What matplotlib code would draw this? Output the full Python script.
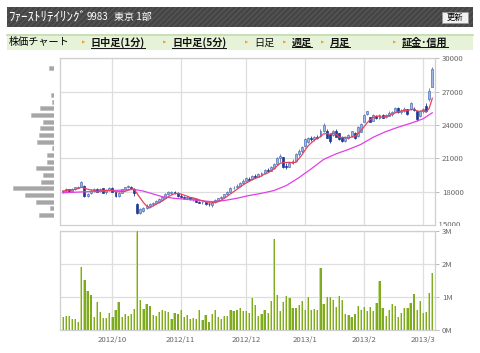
import numpy as np
import matplotlib
matplotlib.use('Agg')
import matplotlib.pyplot as plt
from matplotlib.patches import Rectangle
from matplotlib.lines import Line2D
from matplotlib.transforms import Bbox, blended_transform_factory

plt.rcParams['font.family'] = ['Noto Sans CJK JP', 'DejaVu Sans']

# daily candles, 2012/9/6 .. 2013/3/6
opens = [17950, 18050, 18200, 18100, 18200, 18350, 18450, 18500, 17650, 17850,
         18100, 18250, 18050, 18300, 17950, 18150, 18300, 17950, 17650, 17900,
         18200, 18400, 18450, 18200, 16900, 16050, 16300, 16500, 16700, 16850,
         16950, 17100, 17250, 17450, 17800, 17900, 17950, 17900, 17650, 17550,
         17450, 17500, 17350, 17350, 17100, 17050, 17050, 16900, 16800, 17050,
         17250, 17400, 17550, 17750, 18000, 18300, 18400, 18500, 18800, 18950,
         19150, 19100, 19400, 19350, 19600, 19700, 19950, 19900, 20150, 20500,
         21000, 21100, 20300, 20250, 20600, 20800, 21350, 21650, 22100, 22500,
         22800, 22700, 22900, 23000, 23500, 23500, 23200, 23100, 23500, 23250,
         22950, 22600, 22800, 23000, 23300, 23000, 23400, 24300, 24950, 24700,
         24400, 24800, 24600, 24900, 24700, 24850, 25000, 25200, 25500, 25150,
         25250, 25400, 25400, 25400, 25300, 24800, 25250, 25750, 26300, 27450]
highs = [18150, 18300, 18250, 18350, 18450, 18550, 18950, 18600, 17850, 18200,
         18300, 18300, 18350, 18350, 18200, 18400, 18400, 18000, 17950, 18250,
         18450, 18600, 18550, 18300, 17000, 16500, 16650, 16850, 17000, 17100,
         17250, 17400, 17600, 17900, 18050, 18050, 18050, 18000, 17750, 17650,
         17600, 17550, 17450, 17400, 17200, 17150, 17100, 17050, 17100, 17300,
         17450, 17600, 17800, 18100, 18400, 18500, 18650, 18900, 19100, 19300,
         19300, 19500, 19550, 19700, 19800, 20000, 20100, 20300, 20600, 21100,
         21400, 21150, 20600, 20700, 20900, 21500, 21800, 22100, 22850, 22950,
         23000, 23050, 23100, 23600, 24200, 23600, 23250, 23550, 23600, 23300,
         23000, 22850, 23150, 23500, 23350, 23900, 24200, 24950, 25300, 24750,
         24950, 24900, 25000, 24950, 24950, 25250, 25300, 25650, 25600, 25400,
         25600, 25450, 26100, 25600, 25350, 25350, 25500, 25950, 27300, 29250]
lows = [17850, 18000, 18000, 18050, 18150, 18300, 18400, 17500, 17550, 17800,
        18000, 17950, 18000, 17850, 17800, 18100, 17950, 17500, 17550, 17850,
        18150, 18300, 18200, 17650, 15950, 15950, 16200, 16400, 16600, 16750,
        16850, 17000, 17150, 17400, 17700, 17750, 17800, 17500, 17450, 17350,
        17300, 17250, 17200, 17050, 16950, 16900, 16800, 16750, 16650, 16950,
        17150, 17300, 17500, 17700, 17950, 18200, 18300, 18450, 18700, 18850,
        18950, 19050, 19200, 19300, 19450, 19600, 19750, 19850, 20050, 20400,
        20700, 20100, 20050, 20200, 20500, 20700, 21200, 21500, 22000, 22400,
        22550, 22600, 22700, 22900, 23400, 22800, 22400, 23000, 22900, 22650,
        22450, 22500, 22700, 22950, 22750, 22950, 23350, 24250, 24900, 24250,
        24350, 24500, 24550, 24600, 24650, 24800, 24850, 25150, 25050, 25000,
        25150, 24900, 25350, 25250, 24400, 24700, 25100, 25200, 26200, 27400]
closes = [18100, 18250, 18050, 18250, 18400, 18450, 18850, 17600, 17800, 18100,
          18250, 18000, 18250, 17900, 18150, 18300, 18000, 17600, 17900, 18200,
          18400, 18500, 18250, 17850, 16050, 16400, 16550, 16750, 16900, 16950,
          17150, 17300, 17500, 17800, 17950, 17950, 17900, 17600, 17550, 17450,
          17500, 17300, 17400, 17100, 17000, 17100, 16900, 16850, 17050, 17250,
          17400, 17550, 17750, 18000, 18300, 18350, 18550, 18800, 18950, 19200,
          19050, 19400, 19300, 19600, 19700, 19950, 19850, 20200, 20500, 21000,
          21200, 20200, 20200, 20600, 20800, 21400, 21700, 22000, 22700, 22800,
          22700, 22950, 22850, 23500, 24000, 22850, 22550, 23500, 22950, 22700,
          22550, 22800, 23100, 23450, 22850, 23850, 24100, 24900, 25250, 24300,
          24900, 24600, 24900, 24650, 24900, 25100, 25200, 25550, 25150, 25300,
          25450, 25000, 26000, 25350, 24500, 25250, 25400, 25250, 27100, 29000]

# red line (short average), read per day
ma_short = [18050, 18100, 18150, 18150, 18210, 18280, 18400, 18310, 18220, 18160,
            18120, 17950, 18080, 18100, 18110, 18120, 18120, 17990, 17990, 18000,
            18020, 18120, 18250, 18240, 17810, 17410, 17020, 16720, 16530, 16710,
            16860, 17010, 17160, 17340, 17540, 17700, 17820, 17840, 17790, 17690,
            17600, 17480, 17440, 17350, 17260, 17180, 17100, 16990, 16980, 17030,
            17090, 17220, 17400, 17590, 17800, 17990, 18190, 18400, 18590, 18770,
            18910, 19080, 19180, 19310, 19410, 19590, 19680, 19860, 20040, 20300,
            20550, 20620, 20620, 20640, 20600, 20640, 20940, 21300, 21720, 22120,
            22380, 22630, 22800, 22960, 23200, 23230, 23150, 23280, 23170, 22910,
            22850, 22900, 22820, 22920, 22950, 23210, 23470, 23830, 24190, 24480,
            24690, 24790, 24790, 24670, 24790, 24830, 24950, 25080, 25180, 25260,
            25330, 25290, 25380, 25420, 25260, 25220, 25300, 25150, 25500, 26400]

# magenta line (long average), read at these days
ma_long_day = [0, 4, 8, 12, 16, 20, 23, 26, 29, 32, 36, 40, 44, 48, 52, 56,
               60, 64, 68, 72, 76, 80, 84, 88, 92, 96, 100, 104, 108, 112, 116, 119]
ma_long = [17900, 17950, 18000, 18050, 18100, 18150, 18200, 18050, 17800, 17550,
           17400, 17300, 17200, 17100, 17200, 17400, 17650, 17850, 18100, 18550,
           19250, 20050, 20900, 21400, 21800, 22250, 22900, 23400, 23800, 24150,
           24550, 25100]

# volume in millions of shares
volume_m = [0.38, 0.41, 0.41, 0.32, 0.32, 0.25, 1.92, 1.53, 1.17, 1.06,
            0.38, 0.85, 0.55, 0.36, 0.36, 0.53, 0.38, 0.60, 0.85, 0.38,
            0.47, 0.41, 0.48, 0.64, 3.05, 0.91, 0.64, 0.78, 0.72, 0.44,
            0.41, 0.55, 0.60, 0.57, 0.55, 0.34, 0.53, 0.47, 0.60, 0.38,
            0.44, 0.32, 0.36, 0.32, 0.60, 0.30, 0.44, 0.23, 0.48, 0.60,
            0.38, 0.34, 0.41, 0.41, 0.60, 0.57, 0.62, 0.67, 0.57, 0.57,
            0.51, 0.97, 0.75, 0.41, 0.47, 0.60, 0.53, 0.87, 2.76, 1.06,
            0.58, 0.85, 1.03, 0.97, 0.66, 0.66, 0.76, 0.87, 0.60, 0.99,
            0.62, 0.64, 0.60, 1.87, 0.78, 1.01, 1.01, 0.91, 0.70, 1.03,
            0.91, 0.48, 0.46, 0.38, 0.48, 0.74, 0.60, 0.70, 0.58, 0.70,
            0.58, 0.83, 1.49, 0.66, 0.41, 0.62, 0.78, 0.74, 0.38, 0.51,
            0.66, 0.68, 0.83, 1.08, 0.60, 0.87, 0.53, 0.55, 1.12, 1.72]

# volume by price (left)
profile_prices = [15900, 16500, 17100, 17700, 18300, 18900, 19500, 20100, 20700,
                  21300, 21900, 22500, 23100, 23700, 24300, 24900, 25500, 26100,
                  26700, 27300, 27900, 28500, 29100]
profile_sizes = [15, 4, 18, 29, 41, 13, 11, 18, 7, 7, 2, 17, 15, 14, 11, 23, 14,
                 2, 3, 0, 0, 0, 5]

month_days = [16, 38, 59, 78, 97, 116]
month_labels = ['2012/10', '2012/11', '2012/12', '2013/1', '2013/2', '2013/3']
price_ticks = [18000, 21000, 24000, 27000, 30000]
volume_ticks = [0, 1, 2, 3]
volume_labels = ['0M', '1M', '2M', '3M']

W, H = 480, 353


def box(x0, y0, x1, y1):
    return [x0 / W, 1 - y1 / H, (x1 - x0) / W, (y1 - y0) / H]


fig = plt.figure(figsize=(W / 100, H / 100), dpi=100)
fig.patch.set_facecolor('white')

# header bars
fig.add_artist(Rectangle((7 / W, 1 - 27 / H), 466 / W, 20 / H, transform=fig.transFigure,
                         facecolor='#454545', edgecolor='#555555', hatch='//////', lw=0))
fig.text(8 / W, 1 - 17 / H, 'ﾌｧｰｽﾄﾘﾃｲﾘﾝｸﾞ', color='white',
         fontsize=9.3, va='center', ha='left')
fig.text(87 / W, 1 - 17 / H, '9983', color='white', fontsize=7, va='center', ha='left')
fig.text(114 / W, 1 - 17 / H, '東京 1部', color='white', fontsize=7.2, va='center', ha='left')
fig.add_artist(Rectangle((442 / W, 1 - 23 / H), 26 / W, 10.5 / H, transform=fig.transFigure,
                         facecolor='#f2f2f2', edgecolor='#9a9a9a', lw=0.6))
fig.text(455 / W, 1 - 17.8 / H, '更新', color='black', fontsize=6, va='center', ha='center')

fig.add_artist(Rectangle((7 / W, 1 - 50 / H), 466 / W, 16 / H, transform=fig.transFigure,
                         facecolor='#e7f3d8', edgecolor='none'))
fig.add_artist(Line2D([7 / W, 473 / W], [1 - 34.6 / H, 1 - 34.6 / H], transform=fig.transFigure,
                      color='#c3dcae', lw=1.2))
fig.text(9 / W, 1 - 42.5 / H, '株価チャート', fontsize=7.3, va='center', ha='left')

nav = [(84, '日中足(1分)', True), (165, '日中足(5分)', True), (247, '日足', False),
       (285, '週足', True), (323, '月足', True), (395, '証金･信用', True)]
nav_texts = []
for xp, label, link in nav:
    fig.text(xp / W, 1 - 42.3 / H, '▶', fontsize=3.2, color='#f0a030', va='center', ha='center',
             family='DejaVu Sans')
    t = fig.text((xp + 7) / W, 1 - 42.5 / H, label, fontsize=7.3, va='center', ha='left',
                 fontweight='bold' if link else 'normal', color='#111111')
    if link:
        nav_texts.append(t)

# price panel
ax = fig.add_axes(box(60, 58.3, 435, 225))
x = np.arange(len(closes))
o = np.array(opens)
c = np.array(closes)
up = c >= o
col_up_face, col_up_edge, col_dn = '#9fb6e2', '#5173b8', '#1d3a93'
ax.vlines(x[up], np.array(lows)[up], np.array(highs)[up], color=col_up_edge, lw=0.6, zorder=3)
ax.vlines(x[~up], np.array(lows)[~up], np.array(highs)[~up], color=col_dn, lw=0.6, zorder=3)
body = np.maximum(np.abs(c - o), 40)
ax.bar(x[up], body[up], bottom=np.minimum(o, c)[up], width=0.62, color=col_up_face,
       edgecolor=col_up_edge, lw=0.5, zorder=4)
ax.bar(x[~up], body[~up], bottom=np.minimum(o, c)[~up], width=0.62, color=col_dn,
       edgecolor=col_dn, lw=0.5, zorder=4)
ax.plot(ma_long_day, ma_long, color='#e040e8', lw=0.9, zorder=5)
ax.plot(x, ma_short, color='#e8405c', lw=0.9, zorder=5)

xlim = (-0.87, 119.87)
ax.set_xlim(*xlim)
ax.set_ylim(15000, 30000)
ax.set_xticks(month_days)
ax.set_xticklabels([])
ax.set_yticks(price_ticks)
ax.set_yticklabels([str(p) for p in price_ticks])
ax.yaxis.tick_right()
ax.tick_params(axis='x', length=0)
ax.tick_params(axis='y', length=3, width=0.6, color='#b0b0b0', labelsize=5.6,
               labelcolor='#666666', pad=2)
ax.grid(color='#dedede', lw=0.9)
ax.set_axisbelow(True)
for s in ax.spines.values():
    s.set_color('#cfcfcf')
    s.set_linewidth(0.9)

# 15000 label partly covered by the volume panel
t15 = ax.text(1.0, 15000, '  15000', transform=blended_transform_factory(ax.transAxes, ax.transData),
              fontsize=5.6, color='#666666', va='center', ha='left')
t15.set_clip_box(Bbox([[430, H - 226], [W, H]]))
t15.set_clip_on(True)

# volume panel
axv = fig.add_axes(box(60, 231, 435, 330))
axv.bar(x - 0.36, volume_m, width=0.72, align='edge', color='#7fab22', zorder=3)
axv.bar(x - 0.36, volume_m, width=0.3, align='edge', color='#c4dc8c', zorder=3)
axv.set_xlim(*xlim)
axv.set_ylim(0, 3)
axv.set_xticks(month_days)
axv.set_xticklabels(month_labels)
axv.set_yticks(volume_ticks)
axv.set_yticklabels(volume_labels)
axv.yaxis.tick_right()
axv.tick_params(axis='x', length=0, labelsize=5.6, labelcolor='#666666', pad=4.5)
axv.tick_params(axis='y', length=3, width=0.6, color='#b0b0b0', labelsize=5.6,
                labelcolor='#666666', pad=2)
axv.grid(color='#dedede', lw=0.9)
axv.set_axisbelow(True)
for s in axv.spines.values():
    s.set_color('#cfcfcf')
    s.set_linewidth(0.9)

# volume by price
axp = fig.add_axes(box(0, 58.3, 54.3, 225))
axp.barh(profile_prices, profile_sizes, height=380, color='#a6a6a6', edgecolor='#b8b8b8', lw=0.4)
axp.set_xlim(54.3, 0)
axp.set_ylim(15000, 30000)
axp.axis('off')

# underline the links
fig.canvas.draw()
r = fig.canvas.get_renderer()
for t in nav_texts:
    bb = t.get_window_extent(renderer=r)
    yy = bb.y0 + 0.5
    fig.add_artist(Line2D([bb.x0 / W, bb.x1 / W], [yy / H, yy / H], transform=fig.transFigure,
                          color='#111111', lw=0.7))

fig.savefig('out.png', dpi=100)
